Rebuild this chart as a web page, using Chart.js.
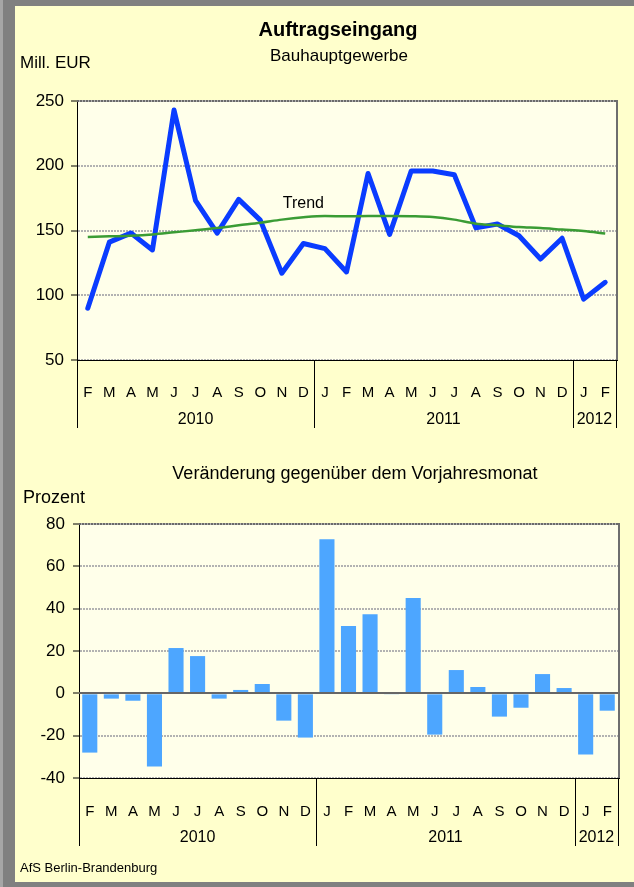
<!DOCTYPE html>
<html><head><meta charset="utf-8">
<script src="https://cdn.jsdelivr.net/npm/chart.js@4/dist/chart.umd.min.js"></script>
<style>
html,body{margin:0;padding:0;}
body{width:634px;height:887px;position:relative;overflow:hidden;background:#808080;font-family:"Liberation Sans",Arial,sans-serif;}
#edge{position:absolute;left:0;top:0;width:3px;height:887px;background:#a6a6a6;}
#panel{position:absolute;left:15px;top:6px;width:619px;height:876px;background:#FFFFCC;}
canvas{position:absolute;left:0;top:0;}
.t{position:absolute;white-space:nowrap;color:#000;}
.c{text-align:center;width:500px;}
</style></head><body>
<div id="edge"></div><div id="panel"></div>
<canvas id="c1" width="634" height="887"></canvas>
<canvas id="c2" width="634" height="887"></canvas>
<div class="t c" style="left:88px;top:19px;font-size:20px;line-height:20px;font-weight:bold;">Auftragseingang</div>
<div class="t c" style="left:89px;top:46.6px;font-size:17px;line-height:17px;">Bauhauptgewerbe</div>
<div class="t" style="left:20px;top:54px;font-size:17px;line-height:17px;">Mill. EUR</div>
<div class="t c" style="left:105px;top:464px;font-size:18px;line-height:18px;">Veränderung gegenüber dem Vorjahresmonat</div>
<div class="t" style="left:23px;top:487.5px;font-size:18px;line-height:18px;">Prozent</div>
<div class="t" style="left:20px;top:861px;font-size:13px;line-height:13px;">AfS Berlin-Brandenburg</div>
<script>
const months = ['F','M','A','M','J','J','A','S','O','N','D','J','F','M','A','M','J','J','A','S','O','N','D','J','F'];
const years = ['2010','2011','2012'];
const monthsPerYear = [11, 12, 2];
const orders = [90,141,148,135,243,173,148,174,158,117,140,136,118,194,147,196,196,193,152,155,146,128,144,97,110];
const trend = [145.0,145.5,146.0,147.0,148.6,150.2,151.9,154.0,156.0,158.4,160.2,161.2,161.0,161.2,161.2,161.0,160.4,158.4,155.3,154.0,152.7,151.9,150.7,149.6,147.6];
const change = [-28,-2.5,-3.5,-34.6,21.4,17.6,-2.5,1.6,4.4,-12.9,-20.9,72.8,31.8,37.4,-0.4,45.0,-19.5,11.0,3.0,-11.0,-6.8,9.1,2.5,-28.9,-8.2];
const trendLabel = 'Trend';

const FONT = "'Liberation Sans', Arial, sans-serif";

function decor(name, withZero, withTrendLabel) {
  return {
    id: 'decor' + name,
    beforeDraw(chart) {
      const {ctx, chartArea: a} = chart;
      ctx.save();
      ctx.fillStyle = '#FFFFEA';
      ctx.fillRect(a.left, a.top, a.right - a.left, a.bottom - a.top);
      ctx.restore();
    },
    afterDatasetsDraw(chart) {
      const {ctx, chartArea: a, scales} = chart;
      if (withZero) {
        const y = Math.round(scales.y.getPixelForValue(0));
        ctx.save();
        ctx.strokeStyle = '#666';
        ctx.lineWidth = 2;
        ctx.beginPath(); ctx.moveTo(a.left, y); ctx.lineTo(a.right, y); ctx.stroke();
        ctx.restore();
      }
      if (withTrendLabel) {
        ctx.save();
        ctx.fillStyle = '#000';
        ctx.font = '16px ' + FONT;
        ctx.textAlign = 'center';
        ctx.textBaseline = 'middle';
        ctx.fillText(trendLabel, scales.x.getPixelForValue(10), scales.y.getPixelForValue(171));
        ctx.restore();
      }
    },
    afterDraw(chart) {
      const {ctx, chartArea: a, scales} = chart;
      const xs = scales.x;
      ctx.save();
      // top border
      ctx.strokeStyle = '#6a6a6a';
      ctx.lineWidth = 2;
      ctx.setLineDash([2, 1]);
      ctx.beginPath(); ctx.moveTo(a.left, a.top); ctx.lineTo(a.right, a.top); ctx.stroke();
      ctx.setLineDash([]);
      // right border
      ctx.strokeStyle = '#6e6e6e';
      ctx.beginPath(); ctx.moveTo(a.right + 1, a.top - 1); ctx.lineTo(a.right + 1, a.bottom); ctx.stroke();
      // bottom axis line again
      ctx.strokeStyle = '#000';
      ctx.lineWidth = 1;
      ctx.beginPath(); ctx.moveTo(a.left, Math.round(a.bottom) + 0.5); ctx.lineTo(a.right + 2, Math.round(a.bottom) + 0.5); ctx.stroke();
      // year separators & labels
      let b = -0.5;
      const bounds = [b];
      monthsPerYear.forEach(n => { b += n; bounds.push(b); });
      ctx.beginPath();
      bounds.forEach(v => {
        const x = Math.round(xs.getPixelForValue(v)) + 0.5;
        ctx.moveTo(x, a.bottom); ctx.lineTo(x, a.bottom + 68);
      });
      ctx.stroke();
      ctx.fillStyle = '#000';
      ctx.font = '16px ' + FONT;
      ctx.textAlign = 'center';
      ctx.textBaseline = 'alphabetic';
      years.forEach((yr, i) => {
        const x = (xs.getPixelForValue(bounds[i]) + xs.getPixelForValue(bounds[i + 1])) / 2;
        ctx.fillText(yr, x, a.bottom + 64);
      });
      ctx.restore();
    }
  };
}

function xAxis(pad) {
  return {
    offset: true,
    grid: {display: false},
    border: {display: true, color: '#000', width: 1},
    ticks: {color: '#000', font: {family: FONT, size: 15}, padding: pad, autoSkip: false, maxRotation: 0, minRotation: 0},
    afterFit(s) { s.height = 70; }
  };
}
function yAxis(min, max, step, w, pad) {
  return {
    min: min, max: max,
    ticks: {stepSize: step, color: '#000', font: {family: FONT, size: 17}, padding: pad},
    grid: {color: '#b2b2b2', lineWidth: 2, tickLength: 6, tickColor: '#000', tickWidth: 1, drawTicks: true},
    border: {display: true, color: '#000', width: 1, dash: [2, 1]},
    afterFit(s) { s.width = w; }
  };
}

new Chart(document.getElementById('c1'), {
  type: 'line',
  data: {
    labels: months,
    datasets: [
      {data: trend, borderColor: '#3a9c34', borderWidth: 2.5, pointRadius: 0, tension: 0.4, cubicInterpolationMode: 'monotone', fill: false},
      {data: orders, borderColor: '#0a3cff', borderWidth: 5, pointRadius: 0, tension: 0, borderJoinStyle: 'round', borderCapStyle: 'round', fill: false}
    ]
  },
  options: {
    responsive: false, animation: false, devicePixelRatio: 1,
    layout: {padding: {top: 101, right: 18, bottom: 457, left: 0}},
    plugins: {legend: {display: false}, tooltip: {enabled: false}},
    scales: {x: xAxis(16), y: yAxis(50, 250, 50, 77, 7)}
  },
  plugins: [decor('1', false, true)]
});

new Chart(document.getElementById('c2'), {
  type: 'bar',
  data: {
    labels: months,
    datasets: [
      {data: change, backgroundColor: '#4da6ff', borderWidth: 0, barPercentage: 0.7, categoryPercentage: 1.0}
    ]
  },
  options: {
    responsive: false, animation: false, devicePixelRatio: 1,
    layout: {padding: {top: 524, right: 16, bottom: 39, left: 0}},
    plugins: {legend: {display: false}, tooltip: {enabled: false}},
    scales: {x: xAxis(17), y: yAxis(-40, 80, 20, 79, 8)}
  },
  plugins: [decor('2', true, false)]
});
</script>
</body></html>
